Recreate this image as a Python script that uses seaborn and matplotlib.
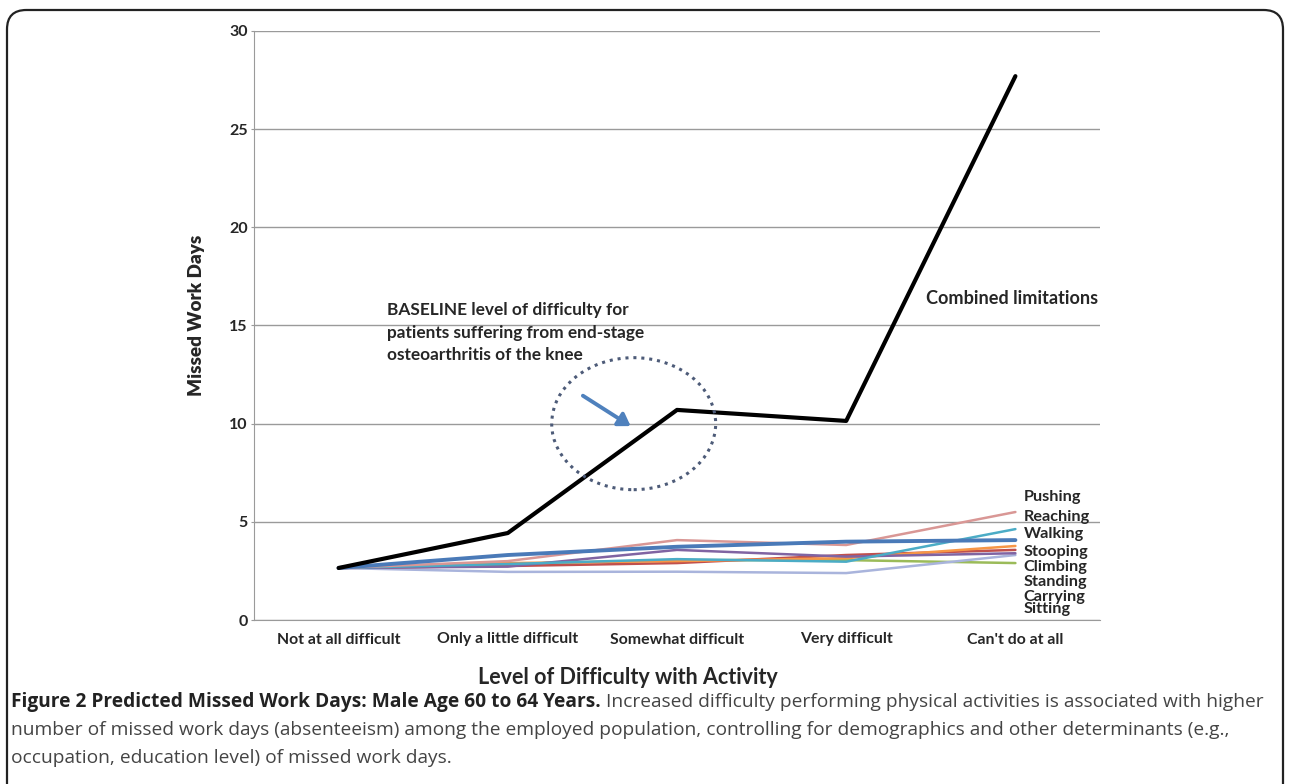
import numpy as np
import pandas as pd
import matplotlib
matplotlib.use("Agg")
import matplotlib.pyplot as plt
import seaborn as sns
from matplotlib.patches import FancyBboxPatch, Ellipse

# DATA
levels = ["Not at all difficult", "Only a little difficult", "Somewhat difficult",
          "Very difficult", "Can't do at all"]
combined = [2.65, 4.43, 10.7, 10.14, 27.7]
pushing = [2.65, 3.0, 4.07, 3.82, 5.5]
reaching = [2.65, 2.85, 3.1, 2.97, 4.63]
walking = [2.65, 3.31, 3.73, 3.99, 4.07]
stooping = [2.65, 2.9, 3.0, 3.15, 3.77]
climbing = [2.65, 2.75, 2.9, 3.31, 3.57]
standing = [2.65, 2.72, 3.57, 3.23, 3.4]
carrying = [2.65, 2.45, 2.46, 2.39, 3.31]
sitting = [2.65, 2.85, 3.05, 3.05, 2.9]

activities = {"Pushing": pushing, "Reaching": reaching, "Walking": walking,
              "Stooping": stooping, "Climbing": climbing, "Standing": standing,
              "Carrying": carrying, "Sitting": sitting}
colors = {"Pushing": "#d99795", "Reaching": "#4bacc6", "Walking": "#4a7ab8",
          "Stooping": "#f79646", "Climbing": "#c0504d", "Standing": "#8064a2",
          "Carrying": "#a9b4dc", "Sitting": "#9bbb59"}
draw_order = ["Sitting", "Carrying", "Climbing", "Stooping", "Standing",
              "Reaching", "Pushing", "Walking"]

rows = []
for name, vals in activities.items():
    for i, v in enumerate(vals):
        rows.append({"activity": name, "x": i, "days": v})
df = pd.DataFrame(rows)
comb = pd.DataFrame({"x": range(len(levels)), "days": combined})

sns.set_style("white")
plt.rcParams['font.family'] = ['Lato', 'DejaVu Sans']

fig = plt.figure(figsize=(12.89, 7.84), dpi=100)
W, H = 1289, 784
ax = fig.add_axes([254 / W, (H - 620) / H, (1100 - 254) / W, (620 - 31) / H])

for name in draw_order:
    sns.lineplot(data=df[df.activity == name], x="x", y="days", ax=ax,
                 color=colors[name], lw=2.8 if name == "Walking" else 1.8,
                 legend=False, zorder=3)
sns.lineplot(data=comb, x="x", y="days", ax=ax, color="black", lw=3, zorder=4)

ax.set_xlim(-0.5, 4.5)
ax.set_ylim(0, 30)
ax.set_yticks(range(0, 31, 5))
ax.set_xticks(range(len(levels)))
ax.set_xticklabels(levels, fontsize=11.4, fontweight="bold")
ax.set_yticklabels([str(v) for v in range(0, 31, 5)], fontsize=11.5, fontweight="bold")
ax.tick_params(axis="x", length=0, pad=9)
ax.tick_params(axis="y", length=2.5, color="#9a9a9a", pad=2, left=True)
ax.yaxis.grid(True, color="#9a9a9a", lw=1)
for s in ["top", "right"]:
    ax.spines[s].set_visible(False)
ax.spines["left"].set_color("#9a9a9a")
ax.spines["bottom"].set_color("#9a9a9a")
ax.set_xlabel("")
ax.set_ylabel("Missed Work Days", fontsize=13.6, fontweight="heavy")
ax.yaxis.set_label_coords(-0.058, (620 - 315) / 589)

# series labels
label_y = {"Pushing": 6.27, "Reaching": 5.25, "Walking": 4.38, "Stooping": 3.46,
           "Climbing": 2.70, "Standing": 1.93, "Carrying": 1.17, "Sitting": 0.56}
for name, yv in label_y.items():
    ax.text(4.05, yv, name, fontsize=11.7, fontweight="bold", va="center", ha="left",
            clip_on=False)
ax.text(3.47, 16.4, "Combined limitations", fontsize=13.1, fontweight="bold",
        va="center", ha="left")
ax.text(0.284, 14.62, "BASELINE level of difficulty for\npatients suffering from end-stage\nosteoarthritis of the knee",
        fontsize=12.4, fontweight="bold", va="center", ha="left", linespacing=1.5)

# dotted ellipse and arrow
ell = Ellipse((1.744, 10.0), width=164 / 169.25, height=132 / 19.63, fill=False,
              ls=(0, (1, 1.6)), lw=2.2, ec="#4d5b78", zorder=5)
ax.add_patch(ell)
ax.annotate("", xy=(1.74, 9.8), xytext=(1.43, 11.5),
            arrowprops=dict(arrowstyle="-|>,head_length=0.7,head_width=0.45",
                            color="#4f81bd", lw=2.8), zorder=6)

fig.text(628 / W, 1 - 678 / H, "Level of Difficulty with Activity",
         fontsize=15.5, fontweight="bold", ha="center", va="center")

# caption
fig.canvas.draw()
r = fig.canvas.get_renderer()
cap_fs = 13.8
bold = fig.text(11 / W, 1 - 702 / H, "Figure 2 Predicted Missed Work Days: Male Age 60 to 64 Years.",
                fontsize=cap_fs, fontweight="bold", ha="left", va="center",
                family=["Open Sans", "DejaVu Sans"], color="#222222")
bb = bold.get_window_extent(renderer=r)
fig.text((bb.x1 + 5) / W, 1 - 702 / H,
         "Increased difficulty performing physical activities is associated with higher",
         fontsize=cap_fs, ha="left", va="center", family=["Open Sans", "DejaVu Sans"],
         color="#444444")
fig.text(11 / W, 1 - 730 / H,
         "number of missed work days (absenteeism) among the employed population, controlling for demographics and other determinants (e.g.,",
         fontsize=cap_fs, ha="left", va="center", family=["Open Sans", "DejaVu Sans"],
         color="#444444")
fig.text(11 / W, 1 - 758 / H, "occupation, education level) of missed work days.",
         fontsize=cap_fs, ha="left", va="center", family=["Open Sans", "DejaVu Sans"],
         color="#444444")

# rounded frame
frame = FancyBboxPatch((7 / W, -0.05), (1283 - 7) / W, (H - 10) / H + 0.05,
                       boxstyle="round,pad=0,rounding_size=0.015",
                       transform=fig.transFigure, fill=False, ec="#222222", lw=1.6,
                       mutation_aspect=W / H)
fig.patches.append(frame)

fig.savefig("out.png", dpi=100)
